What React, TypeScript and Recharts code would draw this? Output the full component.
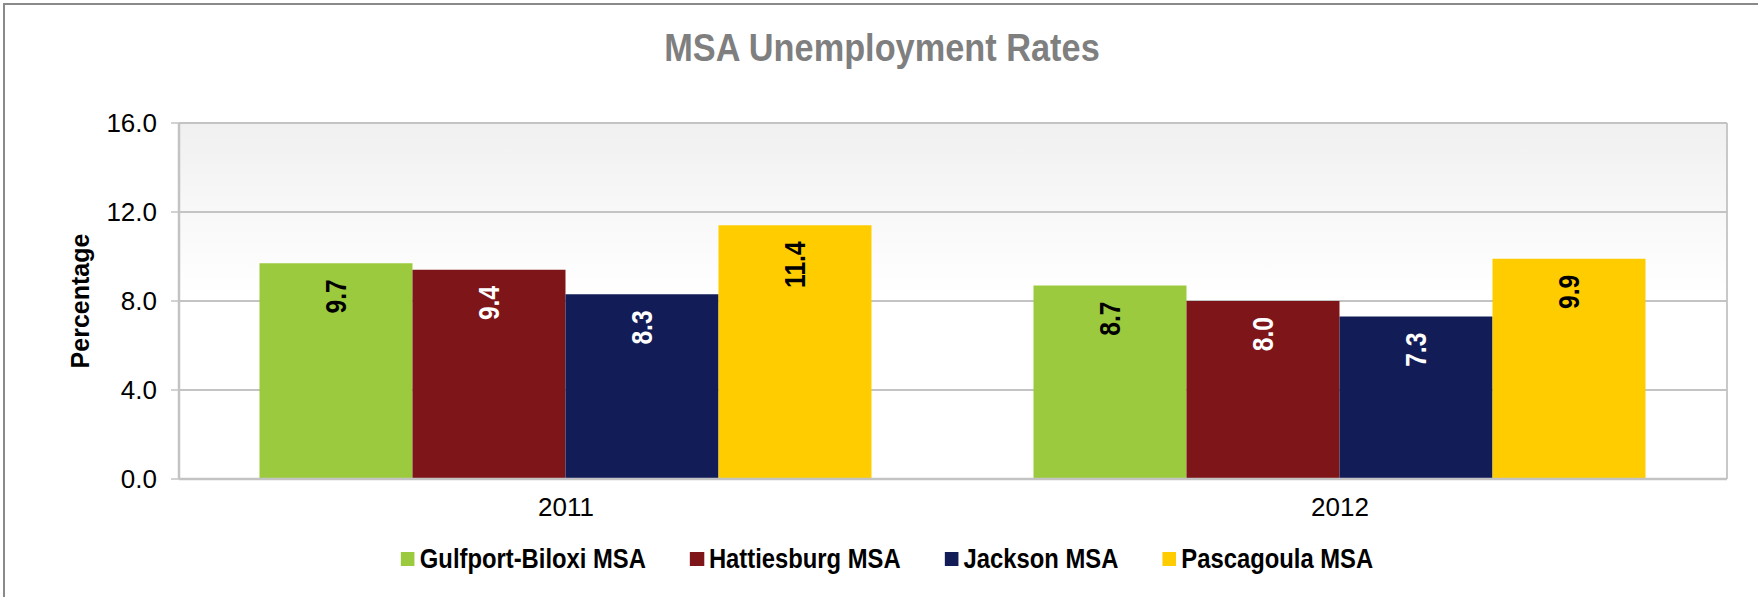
import React from 'react';
import {
  BarChart, Bar, XAxis, YAxis, CartesianGrid, LabelList,
} from 'recharts';

const YEARS = ['2011', '2012'];
const GULFPORT = [9.7, 8.7];
const HATTIESBURG = [9.4, 8.0];
const JACKSON = [8.3, 7.3];
const PASCAGOULA = [11.4, 9.9];
const Y_TICKS = [0, 4, 8, 12, 16];
const EDGE_TICKS = [0, 1, 2];

const SERIES = [
  { key: 'gulfport', name: 'Gulfport-Biloxi MSA', color: '#9BCA3E', label: '#000000' },
  { key: 'hattiesburg', name: 'Hattiesburg MSA', color: '#7E1519', label: '#ffffff' },
  { key: 'jackson', name: 'Jackson MSA', color: '#121C57', label: '#ffffff' },
  { key: 'pascagoula', name: 'Pascagoula MSA', color: '#FFCC00', label: '#000000' },
];

const data = YEARS.map((year, i) => ({
  year,
  gulfport: GULFPORT[i],
  hattiesburg: HATTIESBURG[i],
  jackson: JACKSON[i],
  pascagoula: PASCAGOULA[i],
}));

const SANS = '"Liberation Sans", Arial, sans-serif';
const GRID = '#c3c3c3';
const SQUEEZE = 0.85; // no condensed font installed, so squash horizontally

// rotated value label sitting just inside the top of the bar
const makeLabel = (color: string) => (props: any) => {
  const { x, y, width, value } = props;
  const cx = x + width / 2;
  const cy = y + 16;
  return (
    <text
      x={0} y={0}
      transform={`translate(${cx}, ${cy}) rotate(-90) scale(${SQUEEZE}, 1)`}
      textAnchor="end" dominantBaseline="central"
      fill={color} fontFamily={SANS} fontWeight="bold" fontSize={29}
    >
      {Number(value).toFixed(1)}
    </text>
  );
};

const YearTick = (props: any) => {
  const { x, y, payload } = props;
  return (
    <text x={x} y={y} dy="0.72em" textAnchor="middle" fill="#000" fontFamily={SANS} fontSize={26}>
      {payload.value}
    </text>
  );
};

export default function App() {
  return (
    <div style={{ position: 'fixed', left: 0, top: 0, width: 1758, height: 597, background: '#fff', overflow: 'hidden' }}>
      {/* outer frame, only left + top show in the crop */}
      <div style={{ position: 'absolute', left: 3, top: 3, width: 1800, height: 700, border: '2px solid #8a8a8a' }} />

      <div style={{
        position: 'absolute', left: 882, top: 48, transform: `translate(-50%, -50%) scaleX(0.88)`,
        fontFamily: SANS, fontWeight: 'bold', fontSize: 39, color: '#7f7f7f', whiteSpace: 'nowrap',
      }}>
        MSA Unemployment Rates
      </div>

      <BarChart
        width={1758} height={597} data={data}
        margin={{ top: 123, right: 31, bottom: 78, left: 99 }}
        barCategoryGap="10.4%" barGap={0}
        style={{ position: 'absolute', left: 0, top: 0 }}
      >
        <defs>
          <linearGradient id="plotBg" x1="0" y1="0" x2="0" y2="1">
            <stop offset="0%" stopColor="#f0f0f0" />
            <stop offset="48%" stopColor="#ffffff" />
            <stop offset="100%" stopColor="#ffffff" />
          </linearGradient>
        </defs>
        <XAxis
          xAxisId="edges" type="number" domain={[0, 2]} ticks={EDGE_TICKS}
          height={0} tick={false} axisLine={false}
          tickLine={{ stroke: GRID, strokeWidth: 2.5 }} tickSize={8}
        />
        <XAxis
          xAxisId="cat" dataKey="year" height={40}
          axisLine={{ stroke: GRID, strokeWidth: 2.5 }} tickLine={false}
          tickSize={8} tickMargin={10} tick={<YearTick />}
        />
        <YAxis
          domain={[0, 16]} ticks={Y_TICKS} width={80}
          tickFormatter={(v: number) => v.toFixed(1)}
          tick={{ fill: '#000', fontFamily: SANS, fontSize: 26 }}
          axisLine={{ stroke: GRID, strokeWidth: 2.5 }}
          tickLine={{ stroke: GRID, strokeWidth: 1.5 }} tickSize={8} tickMargin={14}
        />
        <CartesianGrid
          xAxisId="edges" stroke={GRID} strokeWidth={1.8}
          fill="url(#plotBg)" fillOpacity={1}
        />
        {SERIES.map(s => (
          <Bar key={s.key} xAxisId="cat" dataKey={s.key} name={s.name} fill={s.color} isAnimationActive={false}>
            <LabelList dataKey={s.key} content={makeLabel(s.label)} />
          </Bar>
        ))}
      </BarChart>

      {/* y axis title */}
      <div style={{
        position: 'absolute', left: 80, top: 301, transform: 'translate(-50%, -50%) rotate(-90deg)',
        fontFamily: SANS, fontWeight: 'bold', fontSize: 25, color: '#000', whiteSpace: 'nowrap',
      }}>
        Percentage
      </div>

      {/* legend, squashed as a whole to fake the condensed face */}
      <div style={{
        position: 'absolute', left: 887, top: 559, transform: `translate(-50%, -50%) scaleX(${SQUEEZE})`,
        display: 'flex', alignItems: 'center', whiteSpace: 'nowrap',
      }}>
        {SERIES.map((s, i) => (
          <div key={s.key} style={{ display: 'flex', alignItems: 'center', marginLeft: i === 0 ? 0 : 44 / SQUEEZE }}>
            <span style={{ width: 14 / SQUEEZE, height: 14, background: s.color, marginRight: 5 / SQUEEZE, display: 'inline-block' }} />
            <span style={{ fontFamily: SANS, fontWeight: 'bold', fontSize: 28, color: '#000' }}>{s.name}</span>
          </div>
        ))}
      </div>
    </div>
  );
}
